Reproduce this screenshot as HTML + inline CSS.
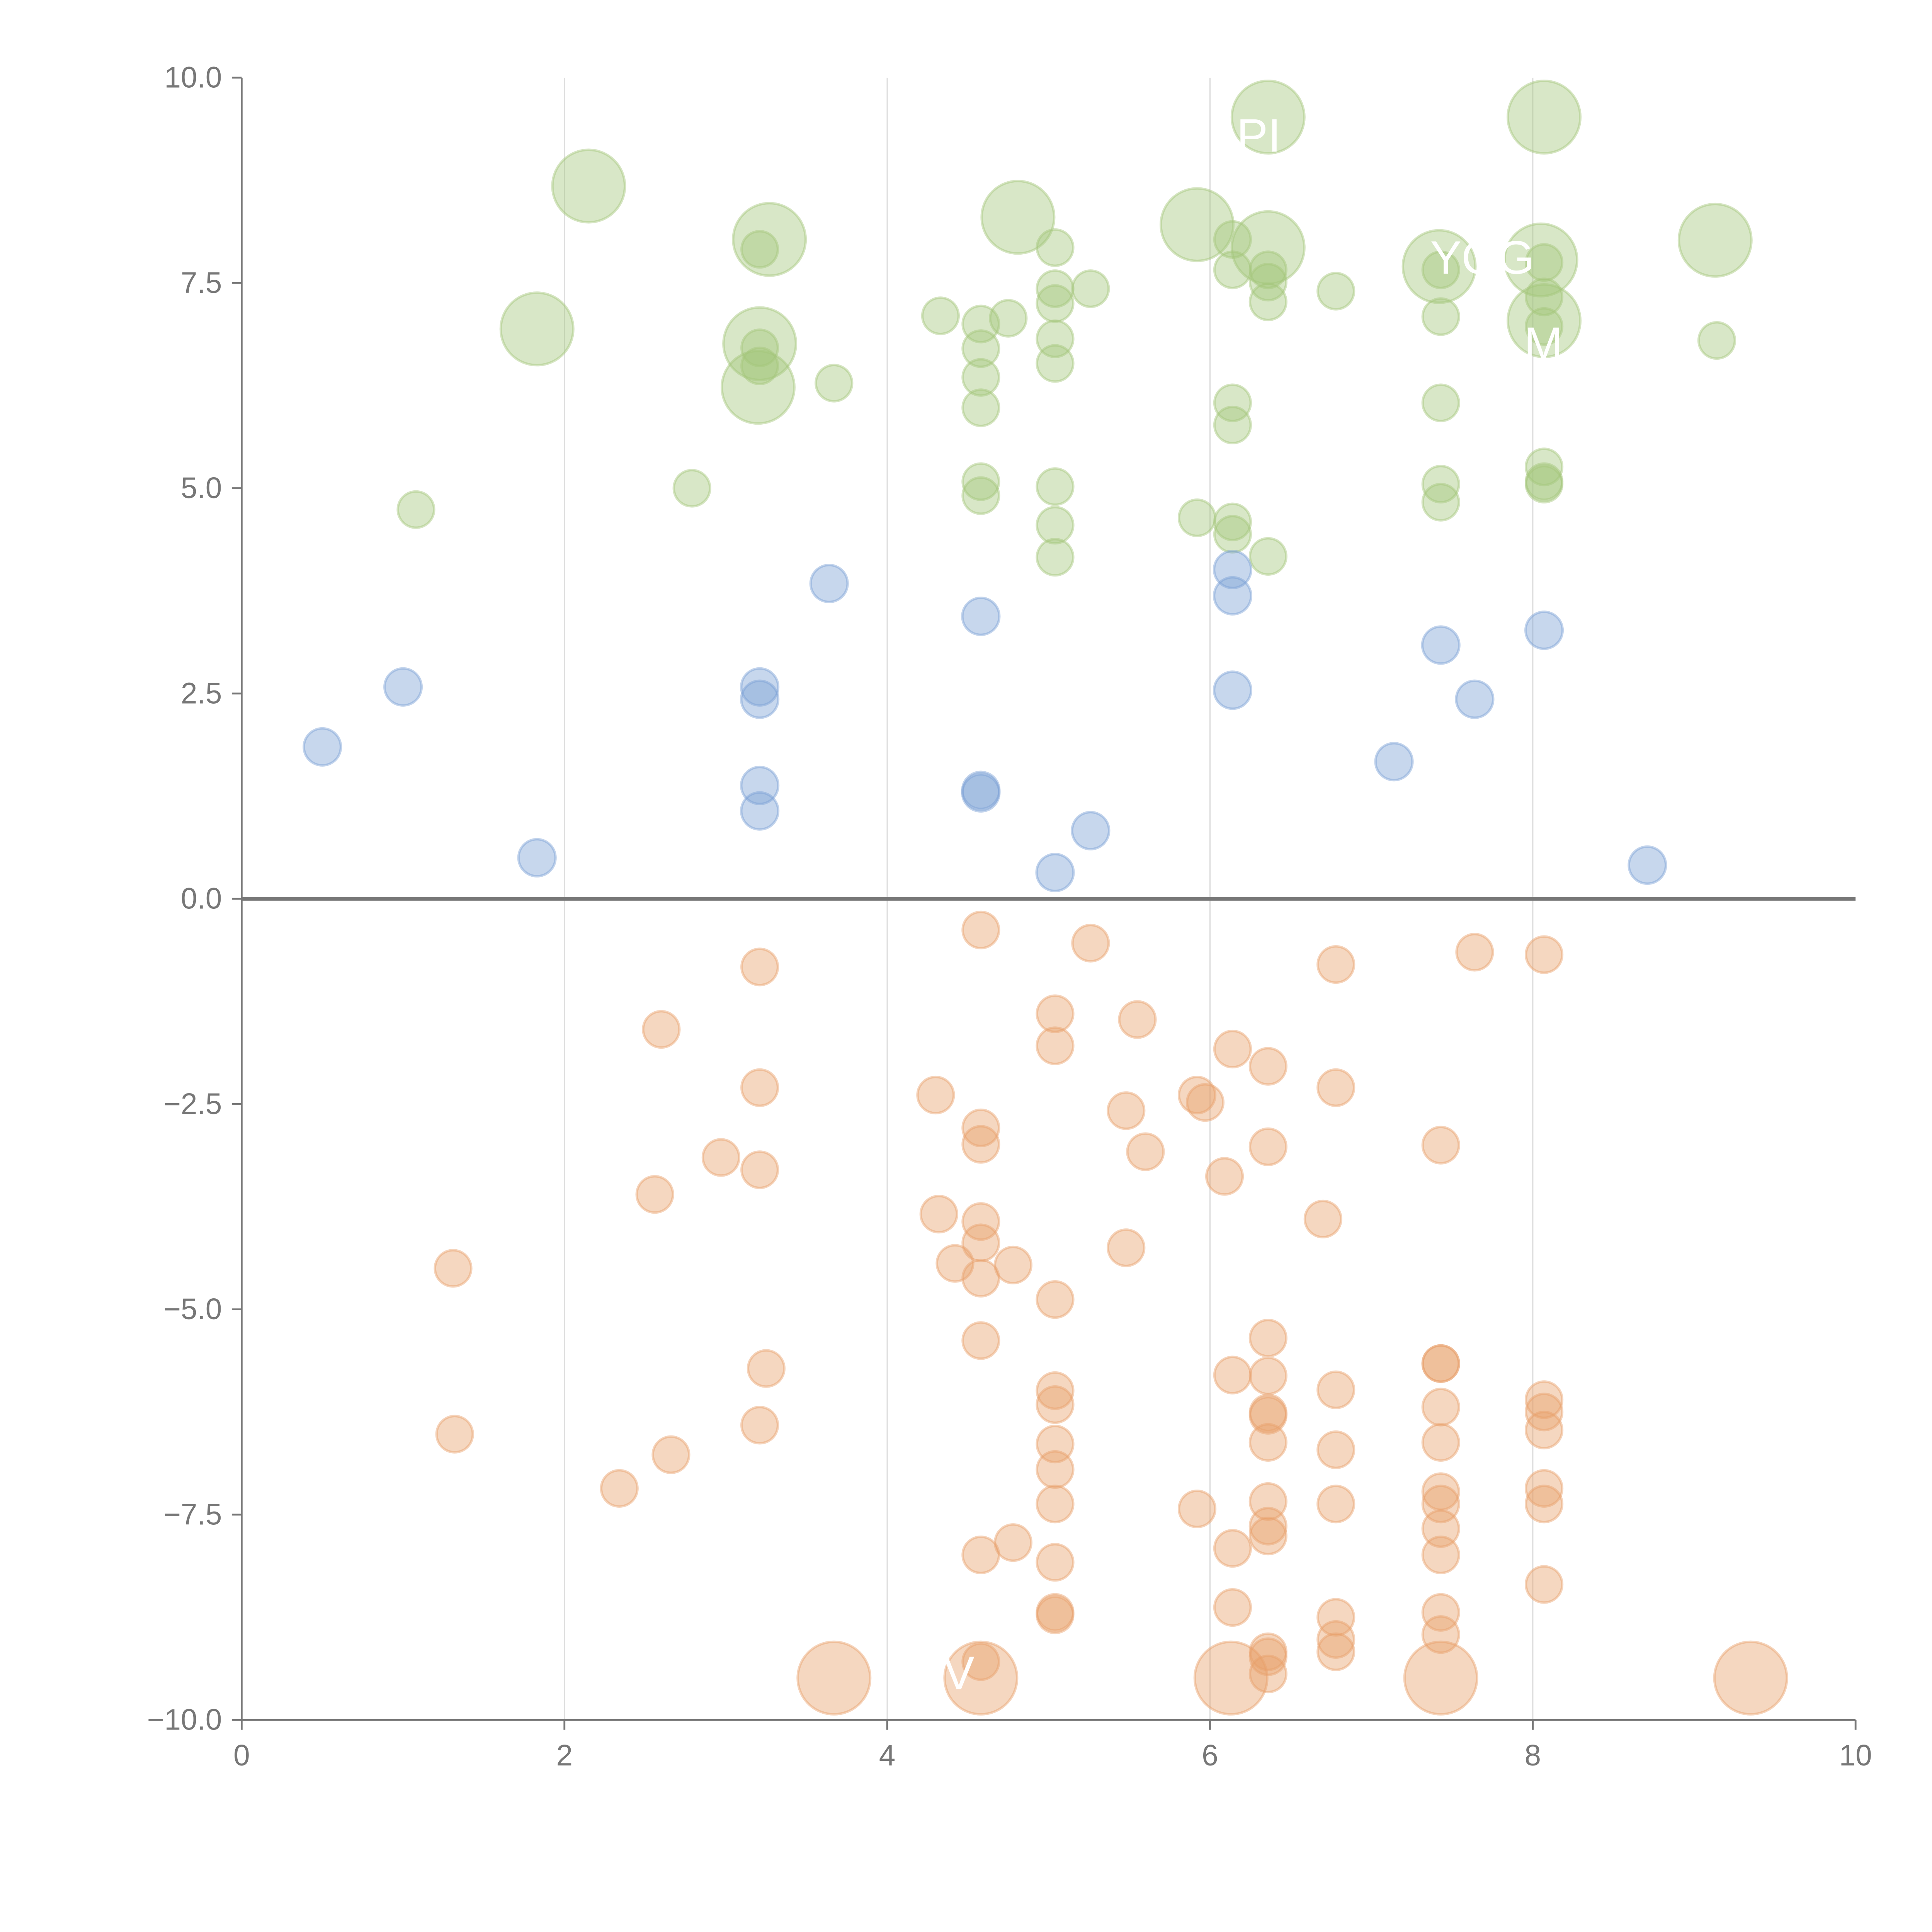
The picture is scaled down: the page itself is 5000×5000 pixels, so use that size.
<!DOCTYPE html>
<html><head><meta charset="utf-8"><style>
html,body{margin:0;padding:0;background:#fff}
svg{display:block}
text{font-family:"Liberation Sans",sans-serif}
</style></head><body>
<svg id="chart" width="5000" height="5000" viewBox="0 0 1567 1567" xmlns="http://www.w3.org/2000/svg"></svg>
<script>
const xTicks=[0,2,4,6,8,10];
const yTicks=[10,7.5,5,2.5,0,-2.5,-5,-7.5,-10];
const yTickLabels=["10.0","7.5","5.0","2.5","0.0","\u22122.5","\u22125.0","\u22127.5","\u221210.0"];
// green series
const greenX=[6.36,8.07,2.15,4.81,5.92,3.27,6.36,9.13,7.42,8.05,1.83,3.21,8.07,3.20,
3.21,5.04,6.14,6.14,6.36,6.36,6.36,6.78,5.26,5.04,5.04,4.33,4.75,4.58,4.58,4.58,4.58,5.04,5.04,7.43,7.43,8.07,8.07,8.07,3.21,3.21,3.67,6.14,6.14,7.43,9.14,1.08,2.79,4.58,4.58,5.04,5.04,5.04,5.92,6.14,6.14,6.36,7.43,7.43,8.07,8.07,8.07];
const greenY=[9.52,9.52,8.68,8.30,8.21,8.03,7.93,8.02,7.70,7.78,6.94,6.76,7.04,6.23,
7.91,7.93,8.03,7.66,7.66,7.51,7.27,7.40,7.43,7.43,7.25,7.10,7.07,7.00,6.70,6.35,5.98,6.82,6.52,7.66,7.09,7.75,7.33,6.97,6.71,6.49,6.28,6.04,5.77,6.04,6.80,4.74,5.00,5.08,4.91,5.02,4.55,4.16,4.64,4.59,4.44,4.17,5.05,4.83,5.26,5.08,5.05];
const greenSize=[4,4,4,4,4,4,4,4,4,4,4,4,4,4,1,1,1,1,1,1,1,1,1,1,1,1,1,1,1,1,1,1,1,1,1,1,1,1,1,1,1,1,1,1,1,1,1,1,1,1,1,1,1,1,1,1,1,1,1,1,1];
// blue series
const blueX=[0.50,1.00,1.83,3.21,3.21,3.21,3.21,3.64,4.58,4.58,4.58,5.04,5.26,6.14,6.14,6.14,7.14,7.43,7.64,8.07,8.71];
const blueY=[1.85,2.58,0.50,2.58,2.43,1.38,1.07,3.84,3.44,1.32,1.29,0.32,0.83,4.01,3.69,2.54,1.67,3.09,2.43,3.27,0.41];
// orange series
const orangeX=[4.58,5.26,3.21,6.78,7.64,8.07,2.60,5.04,5.04,5.55,6.14,6.36,3.21,4.30,5.48,5.92,5.97,6.78,4.58,4.58,5.60,6.36,7.43,2.97,3.21,6.09,2.56,6.70,4.32,4.58,4.58,5.48,4.42,4.78,4.58,1.31,5.04,6.36,4.58,3.25,6.14,6.36,7.43,7.43,5.04,5.04,6.78,8.07,8.07,8.07,6.36,6.36,7.43,1.32,3.21,5.04,6.36,6.78,7.43,2.66,5.04,2.34,7.43,8.07,5.04,5.92,6.36,6.78,7.43,8.07,6.36,6.36,7.43,4.78,4.58,5.04,6.14,7.43,8.07,5.04,5.04,6.14,6.78,7.43,6.36,6.36,6.78,6.78,7.43,4.58,6.36,
3.67,4.58,6.13,7.43,9.35];
const orangeY=[-0.38,-0.54,-0.83,-0.80,-0.65,-0.68,-1.59,-1.40,-1.79,-1.47,-1.83,-2.04,-2.30,-2.39,-2.58,-2.39,-2.48,-2.30,-2.79,-2.99,-3.08,-3.02,-3.00,-3.15,-3.30,-3.38,-3.60,-3.90,-3.84,-3.93,-4.19,-4.25,-4.44,-4.46,-4.62,-4.50,-4.88,-5.35,-5.38,-5.72,-5.80,-5.81,-5.66,-5.66,-5.99,-6.16,-5.98,-6.10,-6.25,-6.47,-6.26,-6.29,-6.19,-6.52,-6.41,-6.64,-6.62,-6.71,-6.62,-6.77,-6.95,-7.18,-7.22,-7.18,-7.37,-7.43,-7.34,-7.37,-7.37,-7.37,-7.64,-7.76,-7.67,-7.84,-7.99,-8.08,-7.91,-7.99,-8.35,-8.69,-8.72,-8.63,-8.75,-8.69,-9.17,-9.23,-9.02,-9.17,-8.96,-9.29,-9.44,
-9.49,-9.49,-9.49,-9.49,-9.49];
const orangeSize=orangeX.map((v,i)=>i>=orangeX.length-5?4:1);

const NS="http://www.w3.org/2000/svg";
const svg=document.getElementById('chart');
const X0=196,X1=1505,Y0=63,Y1=1395;
function sx(v){return X0+(v-0)/(10-0)*(X1-X0);}
function sy(v){return Y1-(v+10)/20*(Y1-Y0);}
function rad(s){return 14*Math.sqrt(s)*1.05;}
function mk(tag,attrs){const e=document.createElementNS(NS,tag);for(const k in attrs)e.setAttribute(k,attrs[k]);svg.appendChild(e);return e;}

xTicks.forEach(t=>{if(t>0&&t<10){const g=mk('line',{x1:sx(t),x2:sx(t),y1:Y0,y2:Y1,stroke:'#ddd','stroke-width':1});

}});

function series(xs,ys,ss,fill,stroke,name){
 xs.forEach((x,i)=>{const c=mk('circle',{cx:sx(x),cy:sy(ys[i]),r:ss?rad(ss[i]):15,fill:fill,'fill-opacity':0.42,stroke:stroke,'stroke-opacity':0.45,'stroke-width':2});
 
 });
}
series(greenX,greenY,greenSize,'#a3c57a','#a3c57a','green-bubble');
series(blueX,blueY,null,'#7a9fd4','#7a9fd4','blue-bubble');
series(orangeX,orangeY,orangeSize,'#e8a06a','#e8a06a','orange-bubble');

[["PI",1003,123],["YOG",1160,222],["M",1236,292],["V",765,1370]].forEach(l=>{const t=mk('text',{x:l[1],y:l[2],fill:'#fff','font-size':38});t.textContent=l[0];

});

const ya=mk('line',{x1:X0,x2:X0,y1:Y0,y2:Y1,stroke:'#777','stroke-width':1.5});


const xa=mk('line',{x1:X0,x2:X1,y1:Y1,y2:Y1,stroke:'#777','stroke-width':1.5});


const zl=mk('line',{x1:X0,x2:X1,y1:sy(0),y2:sy(0),stroke:'#777','stroke-width':3});


xTicks.forEach(t=>{const l=mk('line',{x1:sx(t),x2:sx(t),y1:Y1,y2:Y1+8,stroke:'#777','stroke-width':1.5});


const tx=mk('text',{x:sx(t),y:Y1+37,'text-anchor':'middle',fill:'#777','font-size':24});tx.textContent=t;

});
yTicks.forEach((t,i)=>{const l=mk('line',{x1:X0-8,x2:X0,y1:sy(t),y2:sy(t),stroke:'#777','stroke-width':1.5});


const tx=mk('text',{x:X0-16,y:sy(t)+8,'text-anchor':'end',fill:'#777','font-size':24});tx.textContent=yTickLabels[i];

});
</script>
</body></html>
